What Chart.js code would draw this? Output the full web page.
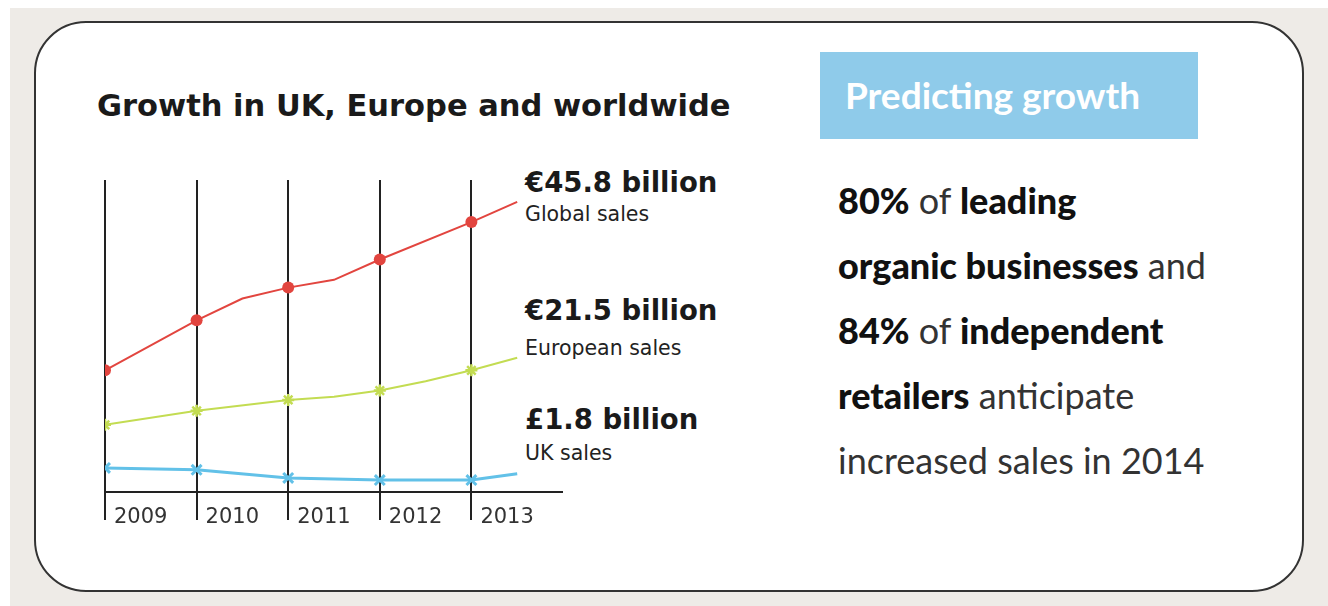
<!DOCTYPE html>
<html>
<head>
<meta charset="utf-8">
<script src="https://cdn.jsdelivr.net/npm/chart.js@4"></script>
<style>
    body { margin: 0; width: 1328px; height: 606px; background: #fff; position: relative; overflow: hidden; font-family: 'DejaVu Sans', sans-serif; }
    #bg { position: absolute; left: 10px; top: 8px; right: 0; bottom: 0; background: #eeebe7; }
    #card { position: absolute; left: 34px; top: 21px; width: 1266px; height: 567px; background: #fff; border: 2px solid #333; border-radius: 52px; }
    #title { position: absolute; left: 97px; top: 88px; font-size: 30.5px; font-weight: 700; color: #1a1a1a; white-space: nowrap; }
    .big { position: absolute; left: 525px; font-size: 27.5px; font-weight: 700; color: #1a1a1a; white-space: nowrap; }
    .small { position: absolute; left: 525px; font-size: 20.5px; color: #222; white-space: nowrap; }
    #tag { position: absolute; left: 820px; top: 52px; width: 378px; height: 87px; background: #8fcbea; }
    #tag span { position: absolute; left: 25px; top: 20px; font-family: Lato, sans-serif; font-weight: 700; font-size: 37px; color: #fff; }
    #blurb { position: absolute; left: 838px; top: 168px; font-family: Lato, sans-serif; font-size: 36px; line-height: 65px; color: #333; white-space: nowrap; }
    #blurb b { color: #111; font-weight: 900; }
    #chartBox { position: absolute; left: 0; top: 0; width: 1328px; height: 606px; pointer-events: none; }
</style>
</head>
<body>
<div id="bg"></div>
<div id="card"></div>
<div id="title">Growth in UK, Europe and worldwide</div>

<div class="big" style="top:166px">€45.8 billion</div>
<div class="small" style="top:202px">Global sales</div>
<div class="big" style="top:294px">€21.5 billion</div>
<div class="small" style="top:336px">European sales</div>
<div class="big" style="top:403px">£1.8 billion</div>
<div class="small" style="top:441px">UK sales</div>

<div id="tag"><span>Predicting growth</span></div>
<div id="blurb">
    <b>80%</b> of <b>leading</b><br>
    <b>organic businesses</b> and<br>
    <b>84%</b> of <b>independent</b><br>
    <b>retailers</b> anticipate<br>
    increased sales in 2014
</div>

<div id="chartBox"><canvas id="growthChart" width="1328" height="606"></canvas></div>

<script>
// years sit on x = 0..4, the lines run on half a step past 2013
const years = ['2009', '2010', '2011', '2012', '2013'];

// (0 = x axis line, 100 = top of the grid lines)
const globalPos = [0, 1, 1.5, 2, 2.5, 3, 4, 4.5];
const globalVals = [39, 55, 62, 65.5, 68, 74.5, 86.5, 93];

const europePos = [0, 1, 2, 2.5, 3, 3.5, 4, 4.5];
const europeVals = [21.5, 26, 29.5, 30.5, 32.5, 35.5, 39, 43];

const ukPos = [0, 1, 2, 3, 4, 4.5];
const ukVals = [7.7, 7.1, 4.5, 3.8, 3.8, 5.8];

function toPoints(pos, vals) {
    return pos.map((x, i) => ({ x: x, y: vals[i] }));
}

// markers only on the year lines
function onYear(ctx, size) {
    const p = ctx.raw;
    return p && Number.isInteger(p.x) ? size : 0;
}

const yearLabels = {
    id: 'yearLabels',
    afterDraw(chart) {
        const { ctx, scales } = chart;
        const yPix = scales.y.getPixelForValue(0) + 26;
        ctx.save();
        ctx.font = '21px "DejaVu Sans", sans-serif';
        ctx.fillStyle = '#333';
        ctx.textBaseline = 'middle';
        years.forEach((yr, i) => {
            ctx.fillText(yr, scales.x.getPixelForValue(i) + 9, yPix);
        });
        ctx.restore();
    }
};

const ctx = document.getElementById('growthChart').getContext('2d');
new Chart(ctx, {
    type: 'line',
    data: {
        datasets: [
            {
                label: 'Global sales',
                data: toPoints(globalPos, globalVals),
                borderColor: '#e2453f',
                backgroundColor: '#e2453f',
                borderWidth: 2,
                pointStyle: 'circle',
                pointRadius: ctx => onYear(ctx, 6),
                pointBorderWidth: 0
            },
            {
                label: 'European sales',
                data: toPoints(europePos, europeVals),
                borderColor: '#c3dc52',
                backgroundColor: '#c3dc52',
                borderWidth: 2,
                pointStyle: 'star',
                pointRadius: ctx => onYear(ctx, 6),
                pointBorderWidth: 2.5
            },
            {
                label: 'UK sales',
                data: toPoints(ukPos, ukVals),
                borderColor: '#62c1e8',
                backgroundColor: '#62c1e8',
                borderWidth: 3,
                pointStyle: 'crossRot',
                pointRadius: ctx => onYear(ctx, 7),
                pointBorderWidth: 3
            }
        ]
    },
    options: {
        responsive: false,
        animation: false,
        layout: { padding: { left: 105, top: 180, right: 765, bottom: 86 } },
        plugins: { legend: { display: false }, tooltip: { enabled: false } },
        elements: { line: { tension: 0 } },
        scales: {
            x: {
                type: 'linear',
                min: 0,
                max: 5,
                ticks: { display: false, stepSize: 1 },
                border: { display: false },
                grid: {
                    drawTicks: false,
                    lineWidth: 2,
                    color: c => (c.tick && c.tick.value < 5 ? '#222' : 'rgba(0,0,0,0)')
                }
            },
            y: {
                min: -9,
                max: 100,
                afterBuildTicks: axis => { axis.ticks = [{ value: 0 }]; },
                ticks: { display: false },
                border: { display: false },
                grid: { drawTicks: false, lineWidth: 2, color: '#222' }
            }
        }
    },
    plugins: [yearLabels]
});
</script>
</body>
</html>
